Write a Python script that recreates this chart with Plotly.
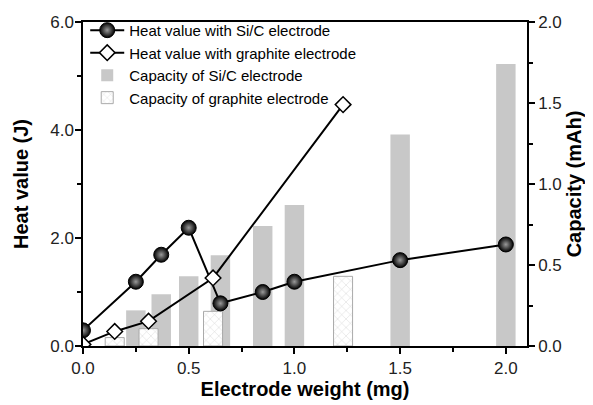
import plotly.graph_objects as go

# Heat value data (J)
sic_w = [0.0, 0.25, 0.37, 0.5, 0.65, 0.85, 1.0, 1.5, 2.0]
sic_heat = [0.29, 1.19, 1.69, 2.19, 0.79, 1.0, 1.19, 1.59, 1.88]
gr_w = [0.0, 0.15, 0.31, 0.615, 1.23]
gr_heat = [0.03, 0.27, 0.46, 1.26, 4.47]

# Capacity data (mAh)
sic_cap_w = [0.25, 0.37, 0.5, 0.65, 0.85, 1.0, 1.5, 2.0]
sic_cap = [0.22, 0.32, 0.43, 0.56, 0.74, 0.87, 1.305, 1.74]
gr_cap_w = [0.15, 0.31, 0.615, 1.23]
gr_cap = [0.052, 0.107, 0.214, 0.43]

names = ["Heat value with Si/C electrode", "Heat value with graphite electrode",
         "Capacity of Si/C electrode", "Capacity of graphite electrode"]

FONT = "Liberation Sans, Arial, sans-serif"

fig = go.Figure()
fig.add_trace(go.Scatter(x=sic_w, y=sic_heat, yaxis="y2", name=names[0], mode="lines+markers",
                         line=dict(color="black", width=2),
                         marker=dict(symbol="circle", size=15, color="black",
                                     gradient=dict(type="radial", color="#9a9a9a"),
                                     line=dict(color="black", width=1))))
fig.add_trace(go.Scatter(x=gr_w, y=gr_heat, yaxis="y2", name=names[1], mode="lines+markers",
                         line=dict(color="black", width=2),
                         marker=dict(symbol="diamond", size=12, color="white",
                                     line=dict(color="black", width=1.5))))
fig.add_trace(go.Bar(x=sic_cap_w, y=sic_cap, yaxis="y", name=names[2], width=0.092,
                     marker=dict(color="#c8c8c8", line=dict(width=0))))
fig.add_trace(go.Bar(x=gr_cap_w, y=gr_cap, yaxis="y", name=names[3], width=0.09,
                     marker=dict(color="white", line=dict(color="#aaaaaa", width=1),
                                 pattern=dict(shape="x", fgcolor="#aaaaaa", bgcolor="white",
                                              size=6, solidity=0.15))))

axis_common = dict(showgrid=False, zeroline=False, showline=True, linecolor="black", linewidth=1.5,
                   ticks="outside", ticklen=6, tickwidth=1.5, tickcolor="black", automargin=False,
                   tickfont=dict(family=FONT, size=17, color="#222"))
minor_common = dict(ticks="outside", ticklen=4, tickwidth=1.5, tickcolor="black")
title_font = dict(family=FONT, size=20, color="black")

fig.update_layout(
    width=593, height=405,
    margin=dict(l=75, r=74, t=14, b=67, autoexpand=False),
    plot_bgcolor="white", paper_bgcolor="white",
    barmode="overlay",
    showlegend=True,
    legend=dict(x=0.005, y=1.025, xanchor="left", yanchor="top",
                bgcolor="rgba(0,0,0,0)",
                font=dict(family=FONT, size=15, color="black"), tracegroupgap=0,
                itemwidth=34, traceorder="normal"),
    xaxis=dict(range=[0, 2.1], tickvals=[0, 0.5, 1.0, 1.5, 2.0],
               ticktext=["0.0", "0.5", "1.0", "1.5", "2.0"], mirror=True,
               minor=dict(tickvals=[0.25, 0.75, 1.25, 1.75], **minor_common),
               title=dict(text="<b>Electrode weight (mg)</b>", font=title_font, standoff=2),
               **axis_common),
    yaxis=dict(range=[0, 2.0], side="right", tickvals=[0, 0.5, 1.0, 1.5, 2.0],
               ticktext=["0.0", "0.5", "1.0", "1.5", "2.0"],
               minor=dict(tickvals=[0.25, 0.75, 1.25, 1.75], **minor_common),
               title=dict(text="<b>Capacity (mAh)</b>", font=title_font, standoff=6),
               **axis_common),
    yaxis2=dict(range=[0, 6.0], side="left", overlaying="y", tickvals=[0, 2, 4, 6],
                ticktext=["0.0", "2.0", "4.0", "6.0"], ticklabelstandoff=-2,
                minor=dict(tickvals=[1, 3, 5], **minor_common),
                title=dict(text="<b>Heat value (J)</b>", font=title_font, standoff=16),
                **axis_common),
)

fig.write_html("out.html")
